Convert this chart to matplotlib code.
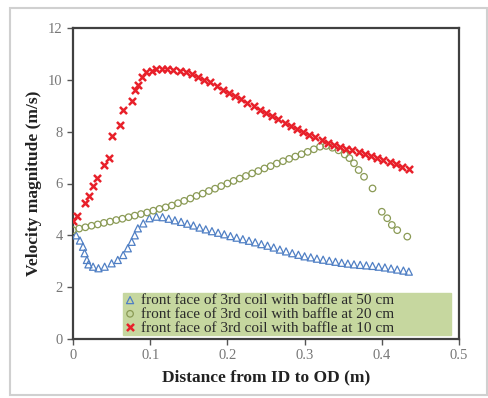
import matplotlib
matplotlib.use("Agg")
import matplotlib.pyplot as plt
from matplotlib.patches import Rectangle

plt.rcParams['font.family'] = ['Liberation Serif', 'DejaVu Serif']

# baffle at 50 cm (blue triangles)
x50 = [0.004, 0.009, 0.013, 0.015, 0.018, 0.020, 0.026, 0.033, 0.041, 0.050, 0.058,
       0.065, 0.071, 0.076, 0.080, 0.084, 0.091, 0.099, 0.108, 0.116, 0.124, 0.132,
       0.140, 0.148, 0.156, 0.164, 0.172, 0.180, 0.188, 0.196, 0.204, 0.212, 0.220,
       0.228, 0.236, 0.244, 0.252, 0.260, 0.268, 0.276, 0.284, 0.292, 0.300, 0.308,
       0.316, 0.324, 0.332, 0.340, 0.348, 0.356, 0.364, 0.372, 0.380, 0.388, 0.396,
       0.404, 0.412, 0.420, 0.428, 0.435]
v50 = [4.00, 3.80, 3.56, 3.31, 3.05, 2.88, 2.79, 2.73, 2.79, 2.92, 3.05,
       3.24, 3.50, 3.75, 4.00, 4.27, 4.46, 4.66, 4.72, 4.70, 4.64, 4.58,
       4.52, 4.45, 4.38, 4.30, 4.23, 4.16, 4.10, 4.04, 3.97, 3.91, 3.85,
       3.79, 3.73, 3.66, 3.60, 3.53, 3.45, 3.38, 3.31, 3.25, 3.19, 3.15,
       3.10, 3.06, 3.02, 2.98, 2.94, 2.91, 2.88, 2.86, 2.84, 2.82, 2.79,
       2.76, 2.72, 2.68, 2.64, 2.60]

# baffle at 20 cm (green circles)
x20 = [0.000, 0.008, 0.016, 0.024, 0.032, 0.040, 0.048, 0.056, 0.064, 0.072, 0.080,
       0.088, 0.096, 0.104, 0.112, 0.120, 0.128, 0.136, 0.144, 0.152, 0.160, 0.168,
       0.176, 0.184, 0.192, 0.200, 0.208, 0.216, 0.224, 0.232, 0.240, 0.248, 0.256,
       0.264, 0.272, 0.280, 0.288, 0.296, 0.304, 0.312, 0.320, 0.328, 0.336, 0.344,
       0.352, 0.358, 0.364, 0.370, 0.377, 0.388, 0.400, 0.407, 0.413, 0.420, 0.433]
v20 = [4.20, 4.26, 4.31, 4.37, 4.42, 4.48, 4.53, 4.59, 4.64, 4.70, 4.76,
       4.82, 4.88, 4.95, 5.02, 5.08, 5.15, 5.24, 5.33, 5.42, 5.52, 5.61,
       5.71, 5.80, 5.90, 6.00, 6.10, 6.19, 6.29, 6.39, 6.48, 6.58, 6.67,
       6.77, 6.86, 6.95, 7.04, 7.13, 7.22, 7.32, 7.42, 7.45, 7.38, 7.28,
       7.12, 6.98, 6.78, 6.52, 6.26, 5.81, 4.91, 4.66, 4.40, 4.20, 3.95]

# baffle at 10 cm (red crosses)
x10 = [0.000, 0.005, 0.0155, 0.021, 0.026, 0.031, 0.040, 0.046, 0.050, 0.061, 0.065,
       0.076, 0.080, 0.084, 0.089, 0.095, 0.102, 0.108, 0.115, 0.122, 0.130, 0.138,
       0.146, 0.154, 0.162, 0.170, 0.178, 0.186, 0.194, 0.202, 0.210, 0.218, 0.226,
       0.234, 0.242, 0.250, 0.258, 0.266, 0.274, 0.282, 0.290, 0.298, 0.306, 0.314,
       0.322, 0.330, 0.338, 0.346, 0.354, 0.362, 0.370, 0.378, 0.386, 0.394, 0.402,
       0.410, 0.418, 0.426, 0.435]
v10 = [4.55, 4.75, 5.25, 5.50, 5.90, 6.20, 6.70, 7.00, 7.85, 8.25, 8.85,
       9.20, 9.60, 9.80, 10.10, 10.30, 10.35, 10.40, 10.40, 10.40, 10.38, 10.35,
       10.30, 10.22, 10.12, 10.00, 9.90, 9.75, 9.62, 9.50, 9.38, 9.25, 9.10,
       8.98, 8.85, 8.72, 8.60, 8.48, 8.35, 8.22, 8.10, 7.98, 7.88, 7.78,
       7.68, 7.58, 7.50, 7.42, 7.35, 7.28, 7.20, 7.12, 7.05, 6.97, 6.90,
       6.82, 6.75, 6.65, 6.55]

labels = ["front face of 3rd coil with baffle at 50 cm",
          "front face of 3rd coil with baffle at 20 cm",
          "front face of 3rd coil with baffle at 10 cm"]

fig = plt.figure(figsize=(4.89, 3.98), dpi=100)
# light frame around the chart
fig.patches.append(Rectangle((10 / 489, 1 - 395 / 398), 477 / 489, 387 / 398,
                             transform=fig.transFigure, fill=False,
                             edgecolor='#d0d0d0', linewidth=1.5))

ax = fig.add_axes([73 / 489, 1 - 339 / 398, 386 / 489, 311 / 398])

ax.scatter(x50, v50, marker='^', s=26, facecolors='none', edgecolors='#4f7fc4',
           linewidths=0.9, label=labels[0], zorder=3)
ax.scatter(x20, v20, marker='o', s=22, facecolors='none', edgecolors='#8a9a55',
           linewidths=0.9, label=labels[1], zorder=3)
ax.scatter(x10, v10, marker='x', s=26, color='#e8202a', linewidths=1.8,
           label=labels[2], zorder=4)

ax.set_xlim(0, 0.5)
ax.set_ylim(0, 12)
ax.set_xticks([0, 0.1, 0.2, 0.3, 0.4, 0.5])
ax.set_xticklabels(['0', '0.1', '0.2', '0.3', '0.4', '0.5'])
ax.set_yticks([0, 2, 4, 6, 8, 10, 12])
ax.tick_params(direction='out', length=4, width=1, colors='#555555',
               labelsize=10.5, labelcolor='#777777')
for sp in ax.spines.values():
    sp.set_color('#404040')
    sp.set_linewidth(1.6)

ax.set_xlabel('Distance from ID to OD (m)', fontweight='bold', fontsize=12.5,
              color='#222222', labelpad=5)
ax.set_ylabel('Velocity magnitude (m/s)', fontweight='bold', fontsize=12.5,
              color='#222222', labelpad=4)

leg = ax.legend(loc='lower left', bbox_to_anchor=(0.13, 0.012, 0.85, 0.16),
                mode='expand', fontsize=11, frameon=True, fancybox=False,
                handletextpad=0.3, handlelength=0.8, borderpad=0.05,
                labelspacing=0.0, borderaxespad=0)
leg.get_frame().set_facecolor('#c6d79f')
leg.get_frame().set_edgecolor('#c6d79f')
leg.get_frame().set_alpha(1)
for t in leg.get_texts():
    t.set_color('#2a2a2a')

fig.savefig('out.png', dpi=100)
